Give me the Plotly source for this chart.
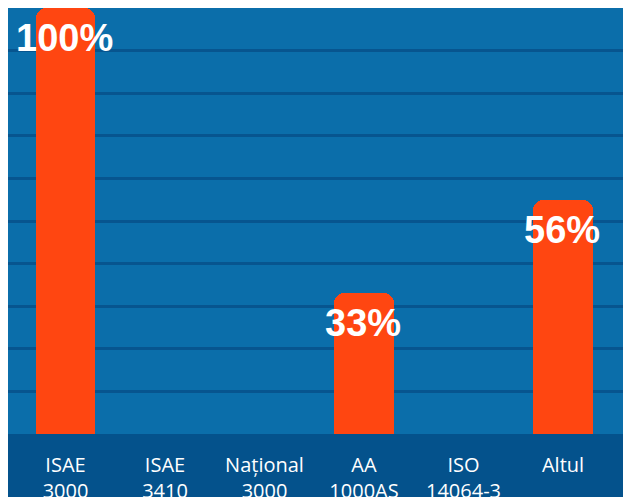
import plotly.graph_objects as go

categories = ["ISAE<br>3000", "ISAE<br>3410", "Național<br>3000", "AA<br>1000AS", "ISO<br>14064-3", "Altul"]
values = [100, 0, 0, 33, 0, 55]
labels = ["100%", "", "", "33%", "", "56%"]
y_ticks = [0, 10, 20, 30, 40, 50, 60, 70, 80, 90, 100]

outer_bg = "#04528c"
plot_bg = "#0b6eaa"
grid_col = "#07558f"
bar_col = "#ff4611"

x_idx = list(range(len(categories)))

fig = go.Figure()
fig.add_trace(go.Bar(
    x=x_idx, y=values, width=0.6,
    marker=dict(color=bar_col, cornerradius=10, line=dict(width=0)),
    hoverinfo="skip",
))

for i, (v, t) in enumerate(zip(values, labels)):
    if t:
        fig.add_annotation(x=i, y=v, text=t, showarrow=False, yanchor="middle",
                           yshift=-30, xshift=-1,
                           font=dict(family="Liberation Sans", size=38, color="white", weight="bold"))

# page body has an 8px margin, so the figure is sized to the remaining visible area
fig.update_layout(
    width=623, height=489,
    margin=dict(l=0, r=6, t=0, b=63, autoexpand=False),
    paper_bgcolor=outer_bg, plot_bgcolor=plot_bg,
    showlegend=False, bargap=0,
    xaxis=dict(range=[-0.578, 5.623], tickvals=x_idx, ticktext=categories,
               showgrid=False, zeroline=False, ticks="outside", ticklen=13,
               tickcolor=outer_bg, showline=False, automargin=False,
               tickfont=dict(family="Open Sans", size=20, color="white")),
    yaxis=dict(range=[0, 100], tickvals=y_ticks, showticklabels=False, automargin=False,
               showgrid=True, gridcolor=grid_col, gridwidth=2.5, zeroline=False),
)

fig.write_html("out.html")
